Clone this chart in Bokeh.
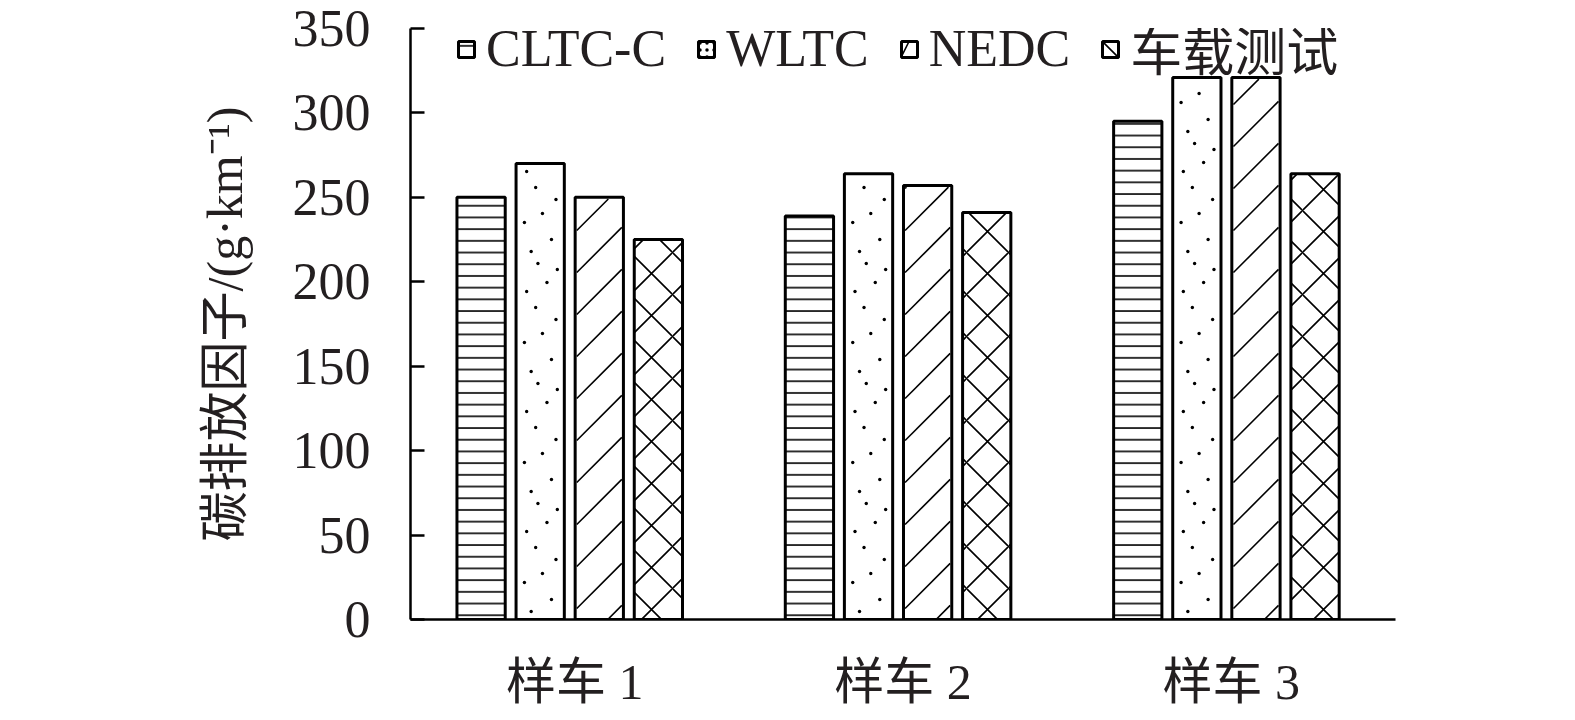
import math
from bokeh.plotting import figure
from bokeh.models import (ColumnDataSource, Range1d, FactorRange, FixedTicker, Legend, LegendItem)
from bokeh.transform import dodge
from bokeh.embed import file_html
from bokeh.resources import INLINE

# ---- data ----
samples = ["样车 1", "样车 2", "样车 3"]
series_names = ["CLTC-C", "WLTC", "NEDC", "车载测试"]
cltc_c = [250, 239, 295]
wltc = [270, 264, 321]
nedc = [250, 257, 321]
onboard = [225, 241, 264]
y_ticks = [0, 50, 100, 150, 200, 250, 300, 350]
y_label = "碳排放因子/(g·km⁻¹)"

src = ColumnDataSource(dict(cats=samples, cltc=cltc_c, wltc=wltc, nedc=nedc, onboard=onboard))

LATIN = "Liberation Serif"
MIXED = "'Liberation Serif', 'Noto Sans CJK SC'"

# ---- layout constants ----
W_FIG, H_FIG = 1559, 712
B_LEFT, B_RIGHT, B_TOP, B_BOTTOM = 410, 164, 28, 93
FRAME_W = W_FIG - B_LEFT - B_RIGHT
FRAME_H = H_FIG - B_TOP - B_BOTTOM
Y_MAX = 350
BAR_W = 0.147
offsets = [-0.285, -0.105, 0.075, 0.255]
KX = FRAME_W / len(samples)   # px per category unit
KY = FRAME_H / Y_MAX          # px per y unit

p = figure(width=W_FIG, height=H_FIG, output_backend="svg", toolbar_location=None,
           x_range=FactorRange(factors=samples, range_padding=0.0),
           y_range=Range1d(0, Y_MAX),
           min_border_left=B_LEFT, min_border_right=B_RIGHT,
           min_border_top=B_TOP, min_border_bottom=B_BOTTOM)
p.background_fill_color = "white"
p.border_fill_color = "white"
p.outline_line_color = None
p.xgrid.visible = False
p.ygrid.visible = False

common = dict(width=BAR_W, fill_color="white", line_color="black", line_width=3,
              hatch_color="black", source=src)

r_cltc = p.vbar(x=dodge("cats", offsets[0], range=p.x_range), top="cltc", hatch_pattern="-",
                hatch_scale=11.7, hatch_weight=1.6, **common)
r_wltc = p.vbar(x=dodge("cats", offsets[1], range=p.x_range), top="wltc", **common)
r_nedc = p.vbar(x=dodge("cats", offsets[2], range=p.x_range), top="nedc", **common)
r_onb = p.vbar(x=dodge("cats", offsets[3], range=p.x_range), top="onboard", hatch_pattern="x",
               hatch_scale=42, hatch_weight=1.6, **common)

# ---- fill decoration derived from the bar values (categorical offsets) ----
INSET = 1.6
# 45-degree hatch inside NEDC bars
SPACING, PHASE = 42.0, 11.0
sx0, sy0, sx1, sy1 = [], [], [], []
for i, top in enumerate(nedc):
    xl = offsets[2] - BAR_W / 2
    w_px = BAR_W * KX - 2 * INSET
    h_px = top * KY - INSET
    k0 = math.floor((-w_px - PHASE) / SPACING)
    k1 = math.ceil((h_px - PHASE) / SPACING)
    for k in range(k0, k1 + 1):
        b = PHASE + k * SPACING
        u0, u1 = max(0.0, -b), min(w_px, h_px - b)
        if u1 > u0:
            sx0.append((samples[i], xl + (INSET + u0) / KX))
            sy0.append((u0 + b) / KY)
            sx1.append((samples[i], xl + (INSET + u1) / KX))
            sy1.append((u1 + b) / KY)
p.segment(x0=sx0, y0=sy0, x1=sx1, y1=sy1, line_color="black", line_width=1.6)

# speckle texture inside WLTC bars (tiling of one 120 px tall cell)
speck_cell = [(0.30, 8), (0.75, 20), (0.15, 37), (0.55, 46), (0.85, 60), (0.40, 72),
              (0.20, 88), (0.65, 97), (0.88, 110), (0.45, 116)]
CELL_H = 120
dx, dy = [], []
for i, top in enumerate(wltc):
    xl = offsets[1] - BAR_W / 2
    w_px = BAR_W * KX - 2 * INSET
    h_px = top * KY - INSET - 3
    for c in range(int(h_px // CELL_H) + 1):
        for fx, v in speck_cell:
            vv = c * CELL_H + v
            if vv < h_px:
                dx.append((samples[i], xl + (INSET + fx * w_px) / KX))
                dy.append(vv / KY)
p.scatter(x=dx, y=dy, marker="circle", size=3.4, fill_color="black", line_color=None)

# legend-only swatches for the textured series
leg_src = ColumnDataSource(dict(cats=samples[:1], v=[0]))
sw_common = dict(width=BAR_W, fill_color="white", line_color="black", line_width=3,
                 hatch_color="black", source=leg_src, visible=False)
sw_wltc = p.vbar(x="cats", top="v", hatch_pattern=".", hatch_scale=7, **sw_common)
sw_nedc = p.vbar(x="cats", top="v", hatch_pattern="/", hatch_scale=40, hatch_weight=1.6,
                 **sw_common)

# y axis
ya = p.yaxis[0]
ya.ticker = FixedTicker(ticks=y_ticks)
ya.minor_tick_line_color = None
ya.major_tick_in = 14
ya.major_tick_out = 0
ya.major_tick_line_width = 2.5
ya.axis_line_width = 2.5
ya.axis_line_color = "black"
ya.major_tick_line_color = "black"
ya.major_label_text_font = LATIN
ya.major_label_text_font_size = "52px"
ya.major_label_text_color = "#231f20"
ya.major_label_standoff = 40
ya.axis_label = y_label
ya.axis_label_text_font = MIXED
ya.axis_label_text_font_size = "50px"
ya.axis_label_text_font_style = "normal"
ya.axis_label_text_color = "#231f20"
ya.axis_label_standoff = 37

# x axis
xa = p.xaxis[0]
xa.major_tick_in = 0
xa.major_tick_out = 0
xa.minor_tick_line_color = None
xa.axis_line_width = 2.5
xa.axis_line_color = "black"
xa.major_label_text_font = MIXED
xa.major_label_text_font_size = "50px"
xa.major_label_text_color = "#231f20"
xa.major_label_standoff = 34

# legend
lg = Legend(items=[LegendItem(label=series_names[0], renderers=[r_cltc]),
                   LegendItem(label=series_names[1], renderers=[sw_wltc]),
                   LegendItem(label=series_names[2], renderers=[sw_nedc]),
                   LegendItem(label=series_names[3], renderers=[r_onb])])
lg.orientation = "horizontal"
lg.location = (46, 533)
lg.background_fill_alpha = 0
lg.border_line_alpha = 0
lg.padding = 0
lg.margin = 0
lg.spacing = 30
lg.glyph_width = 20
lg.glyph_height = 20
lg.label_standoff = 10
lg.label_text_font = MIXED
lg.label_text_font_size = "52px"
lg.label_text_color = "#231f20"
p.add_layout(lg)

open("out.html", "w").write(file_html(p, INLINE))
